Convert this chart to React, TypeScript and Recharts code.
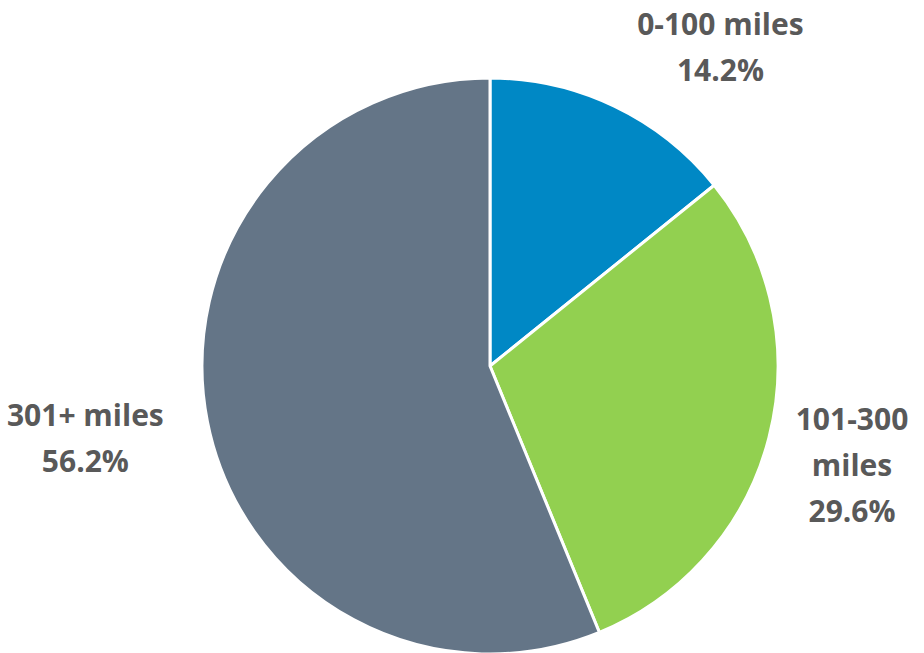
import { PieChart, Pie, Cell } from "recharts";

const categories = ["0-100 miles", "101-300 miles", "301+ miles"];
const shares = [14.2, 29.6, 56.2];
const colors = ["#0088C5", "#92D050", "#647587"];

// label text lines per slice
const labelLines = [
  ["0-100 miles", "14.2%"],
  ["101-300", "miles", "29.6%"],
  ["301+ miles", "56.2%"],
];

// label anchor offsets, in multiples of the pie radius from the centre
const labelAnchors = [
  { dx: 0.8, dy: -1.11 },
  { dx: 1.257, dy: 0.34 },
  { dx: -1.405, dy: 0.245 },
];

const data = categories.map((name, i) => ({ name, value: shares[i] }));

const renderLabel = (props: any) => {
  const { cx, cy, outerRadius, index } = props;
  const a = labelAnchors[index];
  const lines = labelLines[index];
  const lh = 46;
  const x = cx + a.dx * outerRadius;
  const y0 = cy + a.dy * outerRadius - ((lines.length - 1) * lh) / 2;
  return (
    <text
      x={x}
      y={y0}
      textAnchor="middle"
      dominantBaseline="central"
      fill="#595959"
      fontSize={30}
      fontWeight="bold"
      fontFamily="'Open Sans', sans-serif"
    >
      {lines.map((l, i) => (
        <tspan key={i} x={x} y={y0 + i * lh}>
          {l}
        </tspan>
      ))}
    </text>
  );
};

export default function App() {
  return (
    <div style={{ position: "absolute", left: 0, top: 0, width: 924, height: 653, background: "#fff" }}>
      <PieChart width={924} height={653} margin={{ top: 0, right: 0, bottom: 0, left: 0 }}>
        <Pie
          data={data}
          dataKey="value"
          nameKey="name"
          cx={490}
          cy={366}
          outerRadius={288}
          startAngle={90}
          endAngle={-270}
          stroke="#ffffff"
          strokeWidth={3}
          label={renderLabel}
          labelLine={false}
          isAnimationActive={false}
        >
          {data.map((d, i) => (
            <Cell key={d.name} fill={colors[i]} />
          ))}
        </Pie>
      </PieChart>
    </div>
  );
}
